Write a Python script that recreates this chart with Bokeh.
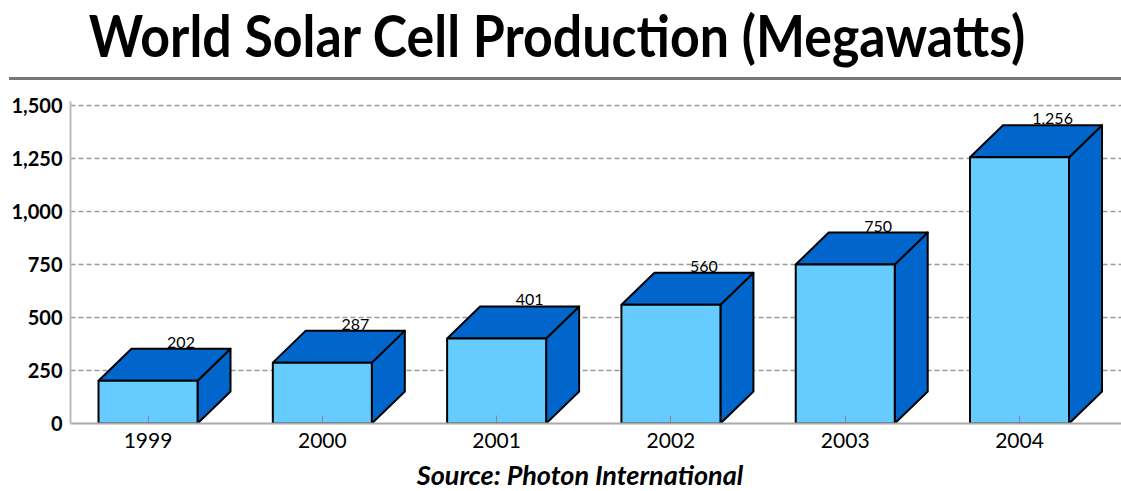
from bokeh.plotting import figure
from bokeh.models import FixedTicker, NumeralTickFormatter, ColumnDataSource, Range1d, Div
from bokeh.layouts import column
from bokeh.embed import file_html
from bokeh.resources import INLINE
from bokeh.core.properties import value

# ---- data ----
years = ["1999", "2000", "2001", "2002", "2003", "2004"]
production_mw = [202, 287, 401, 560, 750, 1256]
y_ticks = [0, 250, 500, 750, 1000, 1250, 1500]
title_text = "World Solar Cell Production (Megawatts)"
source_text = "Source: Photon International"

# ---- geometry (pixels) ----
W = 1121
TITLE_H = 88          # height of the title block
FIG_H = 371           # height of the chart figure
SRC_H = 491 - TITLE_H - FIG_H
FL, FR = 70, 1121     # frame left/right within figure
FT, FB = 13, 335      # frame top/bottom within figure (page 101..423)
PX_PER_UNIT = 318 / 1500.0
X0, X1 = -0.4447, 5.585
Y0 = 0
Y1 = 1500 + 4 / PX_PER_UNIT

def xu(px):
    return px * (X1 - X0) / (FR - FL)

def yu(px):
    return px / PX_PER_UNIT

HALF = xu(49.5)
DX = xu(33)
DY = yu(32)

FRONT = "#66CCFF"
DARK = "#0066CC"

p = figure(width=W, height=FIG_H, x_range=Range1d(X0, X1), y_range=Range1d(Y0, Y1),
           output_backend="svg", toolbar_location=None,
           min_border_left=FL, min_border_right=W - FR, min_border_top=FT,
           min_border_bottom=FIG_H - FB)
p.outline_line_color = None
p.background_fill_color = "white"
p.border_fill_color = "white"

xs = list(range(len(years)))
left = [x - HALF for x in xs]
right = [x + HALF for x in xs]

top_xs = [[l, r, r + DX, l + DX] for l, r in zip(left, right)]
top_ys = [[v, v, v + DY, v + DY] for v in production_mw]
side_xs = [[r, r + DX, r + DX, r] for r in right]
side_ys = [[0, DY, v + DY, v] for v in production_mw]

p.patches(side_xs, side_ys, fill_color=DARK, line_color="black", line_width=2, line_join="round")
p.patches(top_xs, top_ys, fill_color=DARK, line_color="black", line_width=2, line_join="round")
p.quad(left=left, right=right, bottom=[0] * len(xs), top=production_mw,
       fill_color=FRONT, line_color="black", line_width=2)

lbl_src = ColumnDataSource(dict(
    x=[x + DX for x in xs],
    y=[v + DY + yu(1) for v in production_mw],
    t=["{:,}".format(v) for v in production_mw],
))
p.text(x="x", y="y", text="t", source=lbl_src, text_font=value("Lato"),
       text_font_size="16px", text_align="center", text_baseline="bottom",
       text_color="black")

# axes
p.xaxis.ticker = FixedTicker(ticks=xs)
p.xaxis.major_label_overrides = {i: y for i, y in enumerate(years)}
p.xaxis.axis_line_color = "#aaaaaa"
p.xaxis.axis_line_width = 2
p.xaxis.major_tick_in = 8
p.xaxis.major_tick_out = 0
p.xaxis.major_tick_line_color = "#888888"
p.xaxis.minor_tick_line_color = None
p.xaxis.major_label_standoff = 9
p.xaxis.major_label_text_font = "Lato"
p.xaxis.major_label_text_font_size = "21px"
p.xaxis.major_label_text_color = "black"

p.yaxis.ticker = FixedTicker(ticks=y_ticks)
p.yaxis.formatter = NumeralTickFormatter(format="0,0")
p.yaxis.axis_line_color = "#bbbbbb"
p.yaxis.axis_line_width = 2
p.yaxis.major_tick_in = 0
p.yaxis.major_tick_out = 0
p.yaxis.minor_tick_line_color = None
p.yaxis.major_label_standoff = 8
p.yaxis.major_label_text_font = "Lato"
p.yaxis.major_label_text_font_style = "bold"
p.yaxis.major_label_text_font_size = "20px"
p.yaxis.major_label_text_color = "black"

p.xgrid.visible = False
p.ygrid.ticker = FixedTicker(ticks=y_ticks)
p.ygrid.grid_line_color = "#999999"
p.ygrid.grid_line_dash = "5 3"
p.ygrid.grid_line_width = 1.5

title_div = Div(
    text=(
        '<div style="position:relative;width:1121px;height:%dpx;background:white">'
        '<div style="position:absolute;left:0;top:6px;width:1114px;text-align:center;'
        'font-family:Lato;font-weight:bold;font-size:58px;line-height:58px;color:black;'
        'white-space:nowrap;transform:scaleX(0.895);transform-origin:557px 0">%s</div>'
        '<div style="position:absolute;left:9px;top:77px;width:1112px;height:3px;'
        'background:#777777"></div></div>' % (TITLE_H, title_text)
    ),
    width=W, height=TITLE_H, margin=0,
)

source_div = Div(
    text=(
        '<div style="position:relative;width:1121px;height:%dpx;background:white">'
        '<div style="position:absolute;left:0;top:2px;width:1160px;text-align:center;'
        'font-family:Lato;font-weight:bold;font-style:italic;font-size:27px;line-height:27px;'
        'color:black;white-space:nowrap">%s</div></div>' % (SRC_H, source_text)
    ),
    width=W, height=SRC_H, margin=0,
)

layout = column(title_div, p, source_div, spacing=0)
open("out.html", "w").write(file_html(layout, INLINE))
